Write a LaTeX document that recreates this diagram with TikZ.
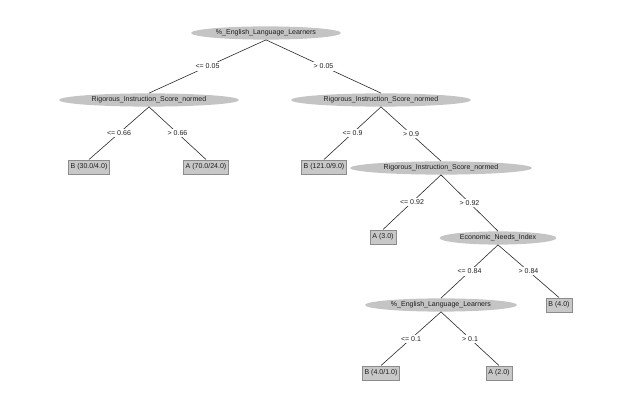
\documentclass[tikz,border=0pt]{standalone}
\usepackage{fontspec}
\setmainfont{Liberation Sans}
\usetikzlibrary{shapes.geometric}
\definecolor{splitgray}{RGB}{196,196,196}
\definecolor{leafgray}{RGB}{200,200,200}
\definecolor{leafedge}{RGB}{140,140,140}
\definecolor{inkgray}{RGB}{30,30,30}

\begin{document}
\begin{tikzpicture}[
  x=0.025cm, y=-0.025cm,
  font=\fontsize{5}{6}\selectfont, text=inkgray,
  split/.style={ellipse, fill=splitgray, inner sep=0pt, minimum height=0.33cm},
  leaf/.style={rectangle, draw=leafedge, fill=leafgray, line width=0.4pt,
               inner sep=1.6pt, minimum height=0.36cm},
  branch/.style={draw=inkgray, line width=0.4pt},
  cond/.style={fill=white, inner sep=1.2pt}]
\useasboundingbox (0,0) rectangle (640,400);
% split nodes
\node[split, minimum width=3.75cm] (ell1) at (266,33) {\%\_English\_Language\_Learners};
\node[split, minimum width=4.5cm] (ris1) at (149,100) {Rigorous\_Instruction\_Score\_normed};
\node[split, minimum width=4.5cm] (ris2) at (381,100) {Rigorous\_Instruction\_Score\_normed};
\node[split, minimum width=4.55cm] (ris3) at (441,168) {Rigorous\_Instruction\_Score\_normed};
\node[split, minimum width=2.92cm] (eni) at (498,238) {Economic\_Needs\_Index};
\node[split, minimum width=3.8cm] (ell2) at (441,305) {\%\_English\_Language\_Learners};
% leaves
\node[leaf] (lfB1) at (89,167) {B (30.0/4.0)};
\node[leaf] (lfA1) at (206,167) {A (70.0/24.0)};
\node[leaf] (lfB2) at (324,167) {B (121.0/9.0)};
\node[leaf] (lfA2) at (383,237) {A (3.0)};
\node[leaf] (lfB3) at (559,305) {B (4.0)};
\node[leaf] (lfB4) at (381,373) {B (4.0/1.0)};
\node[leaf] (lfA3) at (499,373) {A (2.0)};
% branches
\draw[branch] (ell1.south) -- node[cond] {<= 0.05} (ris1.north);
\draw[branch] (ell1.south) -- node[cond] {> 0.05} (ris2.north);
\draw[branch] (ris1.south) -- node[cond] {<= 0.66} (lfB1.north);
\draw[branch] (ris1.south) -- node[cond] {> 0.66} (lfA1.north);
\draw[branch] (ris2.south) -- node[cond] {<= 0.9} (lfB2.north);
\draw[branch] (ris2.south) -- node[cond] {> 0.9} (ris3.north);
\draw[branch] (ris3.south) -- node[cond] {<= 0.92} (lfA2.north);
\draw[branch] (ris3.south) -- node[cond] {> 0.92} (eni.north);
\draw[branch] (eni.south) -- node[cond] {<= 0.84} (ell2.north);
\draw[branch] (eni.south) -- node[cond] {> 0.84} (lfB3.north);
\draw[branch] (ell2.south) -- node[cond] {<= 0.1} (lfB4.north);
\draw[branch] (ell2.south) -- node[cond] {> 0.1} (lfA3.north);
\end{tikzpicture}
\end{document}
